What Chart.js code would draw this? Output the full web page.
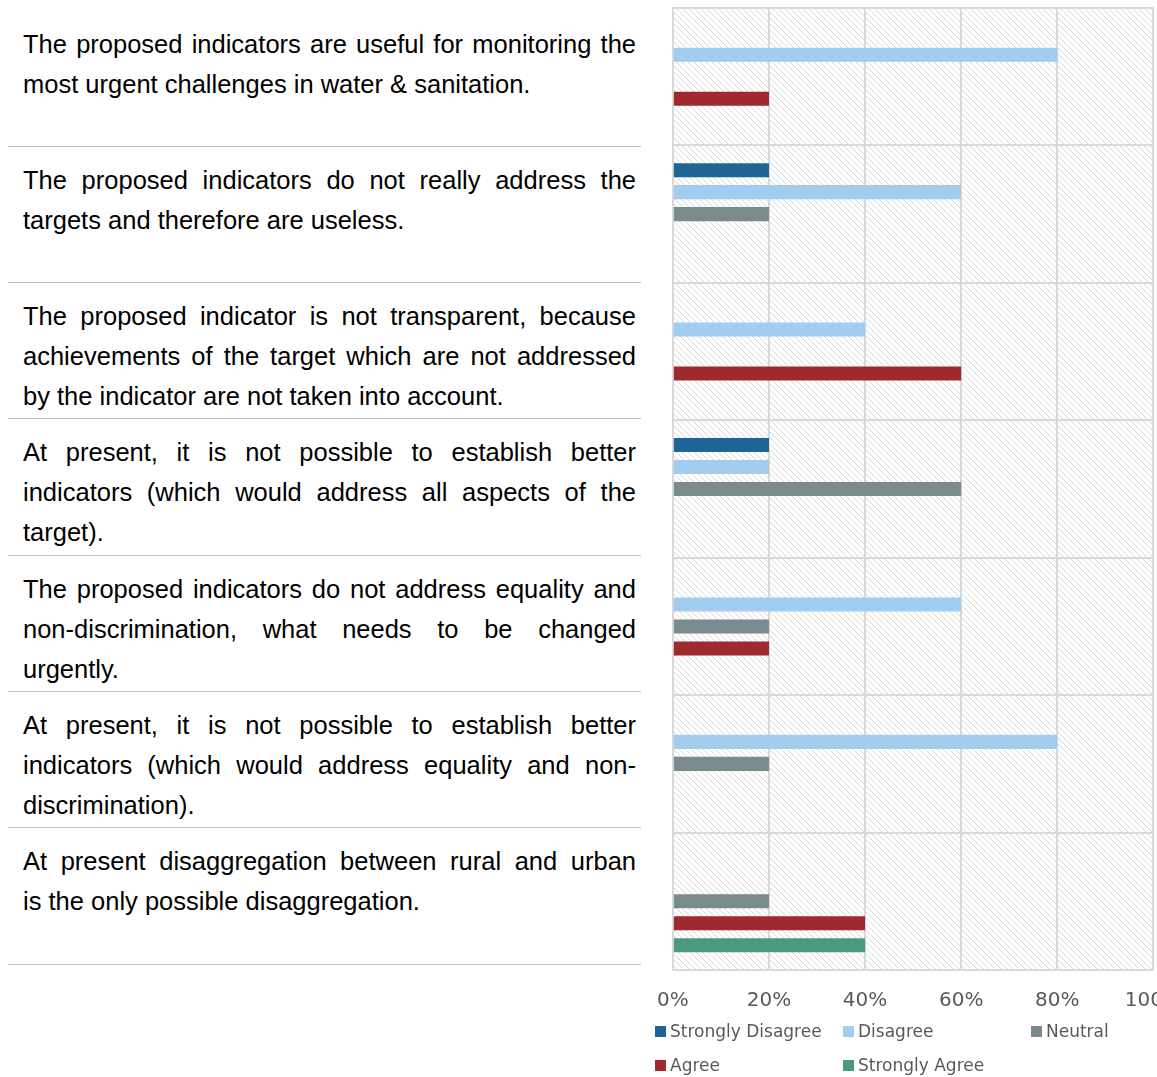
<!DOCTYPE html>
<html>
<head>
<meta charset="utf-8">
<script src="https://cdn.jsdelivr.net/npm/chart.js@4.4.0/dist/chart.umd.min.js"></script>
<style>
  html, body { margin: 0; padding: 0; background: #fff; overflow: hidden; width: 1157px; height: 1077px; }
  #statements { position: absolute; left: 8px; top: 10.5px; width: 633px; }
  .row {
    height: 136.3px; box-sizing: border-box; border-bottom: 1px solid #bfbfbf;
    padding: 13px 5px 0 15px; font: 25.5px/40px "Liberation Sans", Arial, sans-serif; color: #000;
  }
  .row .full { text-align: justify; text-align-last: justify; }
  #chartBox { position: absolute; left: 638px; top: 0; width: 563px; height: 1032px; }
  #legend {
    position: absolute; left: 655px; top: 1019px; width: 502px;
    display: grid; grid-template-columns: 188px 188px 126px; grid-auto-rows: 34px;
    font: 17px "DejaVu Sans", sans-serif; color: #595959;
  }
  #legend span.item { display: flex; align-items: center; height: 24px; white-space: nowrap; }
  #legend i { display: inline-block; width: 11px; height: 11px; margin-right: 4px; }
</style>
</head>
<body>
<div id="statements"></div>
<div id="chartBox"><canvas id="surveyChart"></canvas></div>
<div id="legend"></div>
<script>
// statements, split into the lines used in the source table
const categoryLines = [
  ['The proposed indicators are useful for monitoring the', 'most urgent challenges in water & sanitation.'],
  ['The proposed indicators do not really address the', 'targets and therefore are useless.'],
  ['The proposed indicator is not transparent, because', 'achievements of the target which are not addressed', 'by the indicator are not taken into account.'],
  ['At present, it is not possible to establish better', 'indicators (which would address all aspects of the', 'target).'],
  ['The proposed indicators do not address equality and', 'non-discrimination, what needs to be changed', 'urgently.'],
  ['At present, it is not possible to establish better', 'indicators (which would address equality and non-', 'discrimination).'],
  ['At present disaggregation between rural and urban', 'is the only possible disaggregation.']
];
const categories = categoryLines.map(function (l) { return l.join(' ').replace('non- ', 'non-'); });
const seriesNames = ['Strongly Disagree', 'Disagree', 'Neutral', 'Agree', 'Strongly Agree'];
const stronglyDisagree = [0, 20, 0, 20, 0, 0, 0];
const disagree = [80, 60, 40, 20, 60, 80, 0];
const neutral = [0, 20, 0, 60, 20, 20, 20];
const agree = [20, 0, 60, 0, 20, 0, 40];
const stronglyAgree = [0, 0, 0, 0, 0, 0, 40];
const xTicks = [0, 20, 40, 60, 80, 100];
const colors = ['#1f6496', '#a3cdee', '#7a8b8d', '#9e2a2f', '#4a9a7e'];

// statement column
const list = document.getElementById('statements');
categoryLines.forEach(function (lines) {
    const row = document.createElement('div');
    row.className = 'row';
    lines.forEach(function (line, j) {
        const d = document.createElement('div');
        if (j < lines.length - 1) d.className = 'full';
        d.textContent = line;
        row.appendChild(d);
    });
    list.appendChild(row);
});

// diagonal hatch behind the plot
const hatch = {
    id: 'hatch',
    beforeDraw: function (chart) {
        const a = chart.chartArea;
        const p = document.createElement('canvas');
        p.width = 6; p.height = 6;
        const g = p.getContext('2d');
        g.strokeStyle = '#d6d6d6';
        g.lineWidth = 1;
        g.beginPath();
        g.moveTo(0, 0); g.lineTo(6, 6);
        g.moveTo(-3, 3); g.lineTo(3, 9);
        g.moveTo(3, -3); g.lineTo(9, 3);
        g.stroke();
        const ctx = chart.ctx;
        ctx.save();
        ctx.fillStyle = ctx.createPattern(p, 'repeat');
        ctx.fillRect(a.left, a.top, a.right - a.left, a.bottom - a.top);
        ctx.restore();
    }
};

const seriesData = [stronglyDisagree, disagree, neutral, agree, stronglyAgree];
const ctx = document.getElementById('surveyChart').getContext('2d');
const chart = new Chart(ctx, {
    type: 'bar',
    data: {
        labels: categories,
        datasets: seriesNames.map(function (name, i) {
            return {
                label: name,
                data: seriesData[i],
                backgroundColor: colors[i],
                borderWidth: 0,
                categoryPercentage: 0.8,
                barPercentage: 0.64,
            };
        }),
    },
    options: {
        indexAxis: 'y',
        responsive: true,
        maintainAspectRatio: false,
        animation: false,
        layout: { padding: { left: 25, right: 30, top: 8, bottom: 0 } },
        plugins: {
            legend: { display: false },
            tooltip: { enabled: false },
        },
        scales: {
            x: {
                min: 0,
                max: 100,
                afterBuildTicks: function (scale) {
                    scale.ticks = xTicks.map(function (v) { return { value: v }; });
                },
                ticks: {
                    callback: function (v) { return v + '%'; },
                    color: '#595959',
                    font: { family: '"DejaVu Sans", sans-serif', size: 20 },
                    padding: 19,
                    maxRotation: 0,
                },
                grid: { color: '#d9d9d9', lineWidth: 2, drawTicks: false },
                border: { color: '#d9d9d9', width: 2 },
            },
            y: {
                ticks: { display: false },
                grid: { color: '#d9d9d9', lineWidth: 2, drawTicks: false, offset: true },
                border: { color: '#d9d9d9', width: 2 },
            },
        },
    },
    plugins: [hatch],
});

// legend laid out as in the source, two rows
const legend = document.getElementById('legend');
chart.data.datasets.forEach(function (ds) {
    const item = document.createElement('span');
    item.className = 'item';
    const box = document.createElement('i');
    box.style.background = ds.backgroundColor;
    item.appendChild(box);
    item.appendChild(document.createTextNode(ds.label));
    legend.appendChild(item);
});
</script>
</body>
</html>
